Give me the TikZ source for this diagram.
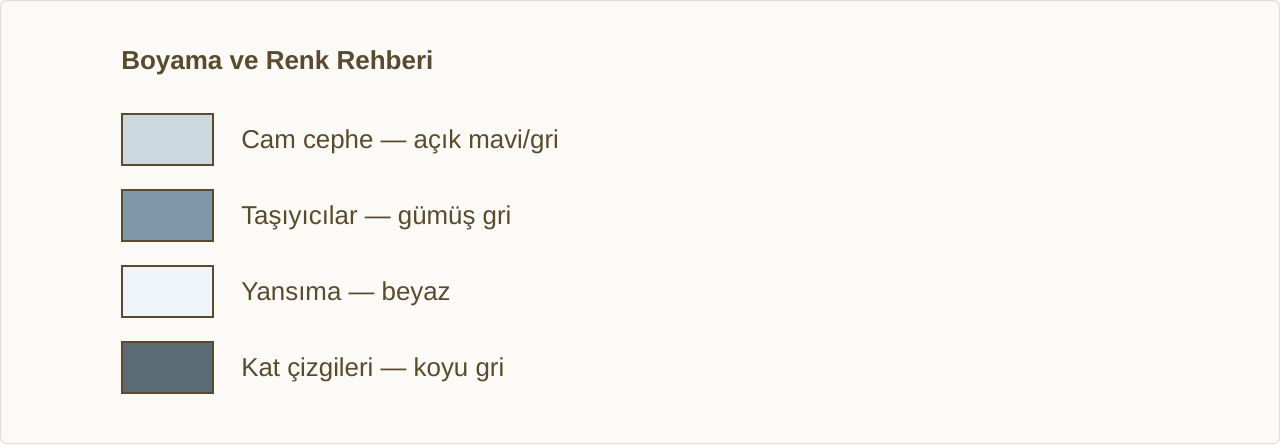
\documentclass[tikz,border=0pt]{standalone}
\usepackage{fontspec}
\setmainfont{Liberation Sans}
\definecolor{bg}{HTML}{FBFAF6}
\definecolor{bord}{HTML}{E3DED3}
\definecolor{ink}{HTML}{5A4A2E}
\definecolor{cA}{HTML}{CBD8E0}
\definecolor{cB}{HTML}{7F97AA}
\definecolor{cC}{HTML}{EFF4F8}
\definecolor{cD}{HTML}{5B6B75}
\begin{document}
\begin{tikzpicture}[x=0.75pt,y=-0.75pt,
  swatch/.style={draw=ink,line width=1.5pt,minimum width=68.25pt,minimum height=38.25pt,inner sep=0pt,anchor=north west},
  lbl/.style={text=ink,font=\fontsize{19.4}{21}\selectfont,anchor=base west,inner sep=0pt}]
\useasboundingbox (0,0) rectangle (1280,444);
\draw[draw=bord,fill=bg,line width=0.75pt,rounded corners=4.5pt] (0.5,0.5) rectangle (1279.5,443.5);
\node[text=ink,font=\fontsize{19.5}{21}\selectfont\bfseries,anchor=base west,inner sep=0pt] (title) at (121,69) {Boyama ve Renk Rehberi};
\node[swatch,fill=cA] (s1) at (121,113) {};
\node[swatch,fill=cB] (s2) at (121,189) {};
\node[swatch,fill=cC] (s3) at (121,265) {};
\node[swatch,fill=cD] (s4) at (121,341) {};
\node[lbl] (t1) at (241,148) {Cam cephe — açık mavi/gri};
\node[lbl] (t2) at (241,224) {Taşıyıcılar — gümüş gri};
\node[lbl] (t3) at (241,300) {Yansıma — beyaz};
\node[lbl] (t4) at (241,376) {Kat çizgileri — koyu gri};
\end{tikzpicture}
\end{document}
